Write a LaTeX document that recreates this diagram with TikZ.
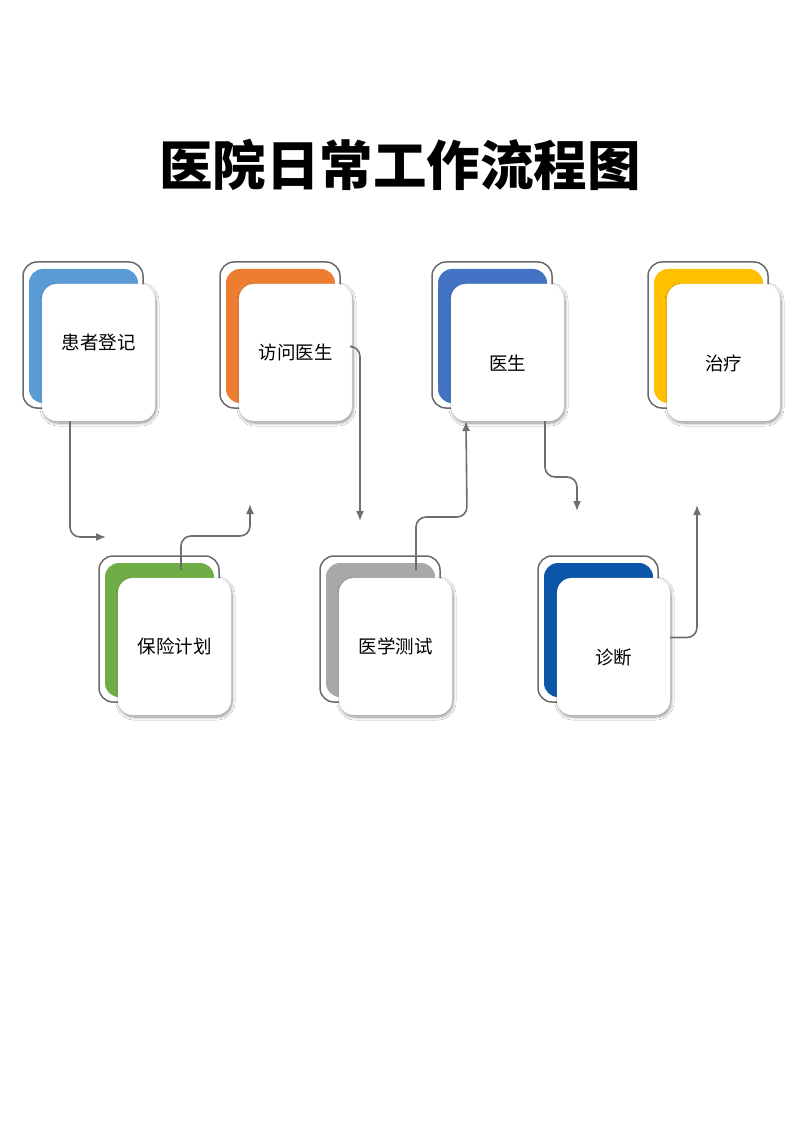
\documentclass[tikz,border=0pt]{standalone}
\usepackage{fontspec}
\newfontfamily\cjk{Noto Sans CJK SC}
\usetikzlibrary{shadows.blur,arrows.meta,calc}
\definecolor{cA}{HTML}{5B9BD5}
\definecolor{cB}{HTML}{ED7D31}
\definecolor{cC}{HTML}{4472C4}
\definecolor{cD}{HTML}{FFC000}
\definecolor{cE}{HTML}{70AD47}
\definecolor{cF}{HTML}{A9A9A9}
\definecolor{cG}{HTML}{0B56A8}
\definecolor{framegray}{HTML}{6A6A6A}
\definecolor{conngray}{HTML}{6E6E6E}
\tikzset{
  frame/.style={draw=framegray, line width=1.5pt, fill=white, rounded corners=14pt,
    minimum width=120pt, minimum height=146pt, inner sep=0pt, outer sep=0pt},
  panel/.style={draw=none, rounded corners=14pt,
    minimum width=109pt, minimum height=134pt, inner sep=0pt, outer sep=0pt},
  card/.style={draw=black!8, line width=0.3pt, fill=white, rounded corners=15pt,
    minimum width=113pt, minimum height=137pt, inner sep=0pt, outer sep=0pt,
    blur shadow={shadow xshift=1pt, shadow yshift=-2pt, shadow blur radius=3pt, shadow blur steps=8, shadow opacity=45}},
  lbl/.style={font=\cjk\fontsize{18.5}{20}\selectfont, text=black, inner sep=0pt},
  conn/.style={draw=conngray, line width=1.6pt, rounded corners=10pt,
    -{Latex[length=10pt,width=8pt]}},
}
\newcommand\mycard[6]{%
  \node[frame] (#1f) at (#2+60, #3+73) {};
  \node[panel, fill=#4] (#1p) at (#2+60.5, #3+74) {};
  \node[card] (#1) at (#2+75.5, #3+90.5) {};
  \node[lbl] (#1t) at ([yshift=#6]#1.center) {#5};
}
\begin{document}
\begin{tikzpicture}[x=1pt,y=-1pt]
\useasboundingbox[fill=white] (0,0) rectangle (800,1131);
\node[font=\cjk\bfseries\fontsize{53.5}{60}\selectfont, inner sep=0pt] (title) at (400,165) {医院日常工作流程图};

\mycard{c1}{23}{262}{cA}{患者登记}{10pt}
\mycard{c2}{220}{262}{cB}{访问医生}{0pt}
\mycard{c3}{432}{262}{cC}{医生}{-11pt}
\mycard{c4}{648}{262}{cD}{治疗}{-11pt}
\mycard{c5}{99}{556}{cE}{保险计划}{0pt}
\mycard{c6}{320}{556}{cF}{医学测试}{0pt}
\mycard{c7}{538}{556}{cG}{诊断}{-11pt}

\coordinate (a1e) at (106,537);
\coordinate (a2m) at (250,536);
\coordinate (a2e) at (250,504);
\coordinate (a3e) at (360,521);
\coordinate (a4m) at (467,517);
\coordinate (a5m) at (577,477);
\coordinate (a5e) at (577,511);
\coordinate (a6e) at (697,505);

\draw[conn] ([xshift=28pt]c1.south west) |- (a1e);
\draw[conn] ([xshift=63pt,yshift=8pt]c5.north west) |- (a2m) -- (a2e);
\draw[conn] ([yshift=6pt]c2.east) -| (a3e);
\draw[conn] ([xshift=77pt,yshift=8pt]c6.north west) |- (a4m) -- ([xshift=15pt]c3.south west);
\draw[conn] ([xshift=94pt]c3.south west) |- (a5m) -- (a5e);
\draw[conn] ([yshift=9pt]c7.east) -| (a6e);
\end{tikzpicture}
\end{document}
